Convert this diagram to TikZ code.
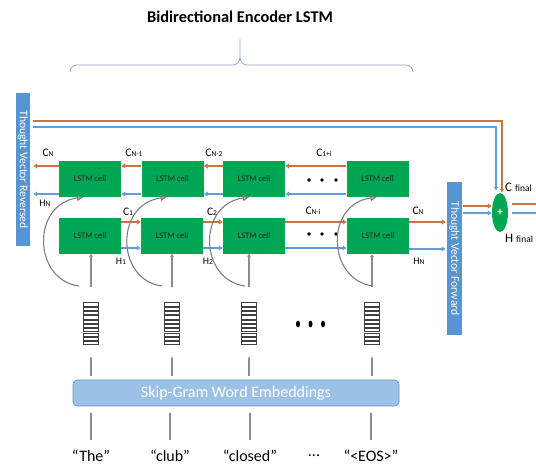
\documentclass[tikz,border=0pt]{standalone}
\usepackage{fontspec}
\setmainfont{Carlito}
\usetikzlibrary{arrows.meta,shapes.geometric}
\definecolor{orng}{RGB}{200,118,62}
\definecolor{lblue}{RGB}{98,156,214}
\definecolor{barblue}{RGB}{88,148,208}
\definecolor{cellgreen}{RGB}{0,166,81}
\definecolor{arrgray}{RGB}{140,140,140}
\definecolor{arcgray}{RGB}{125,125,125}
\definecolor{bracecol}{RGB}{140,170,205}
\definecolor{embfill}{RGB}{155,194,230}
\definecolor{embdraw}{RGB}{105,145,195}
\newcommand{\sbs}[1]{{\fontsize{7.5}{8}\selectfont #1}}
\begin{document}
\begin{tikzpicture}[x=1pt,y=-1pt,
  cellbox/.style={fill=cellgreen, minimum width=62pt, minimum height=36pt, inner sep=0pt, font=\fontsize{8.5}{9}\selectfont, text=black!85},
  barbox/.style={fill=barblue, text=white, inner sep=0pt, font=\fontsize{11.6}{12}\selectfont},
  oarr/.style={draw=orng, line width=2.6pt, -{Latex[length=4pt,width=6pt]}},
  barr/.style={draw=lblue, line width=2.2pt, -{Latex[length=4pt,width=5.5pt]}},
  oline/.style={draw=orng, line width=1.8pt},
  bline/.style={draw=lblue, line width=1.6pt},
  garr/.style={draw=arrgray, line width=2.2pt, -{Latex[length=3pt,width=4.5pt]}},
  garc/.style={draw=arcgray, line width=1.1pt, -{Triangle[length=6pt,width=6pt,fill=arcgray!60]}},
  lab/.style={font=\fontsize{11.5}{12}\selectfont, inner sep=0pt},
  hlab/.style={font=\fontsize{10}{10}\selectfont, inner sep=0pt},
  word/.style={font=\fontsize{16}{17}\selectfont, inner sep=0pt},
  vecbox/.style={minimum width=15pt, minimum height=43pt, inner sep=0pt},
  vecline/.style={draw=black!75, line width=0.45pt}
]
\useasboundingbox (0,0) rectangle (536,466);

% title and brace
\node[font=\bfseries\fontsize{16.4}{18}\selectfont] (title) at (240,17) {Bidirectional Encoder LSTM};
\draw[bracecol, line width=0.8pt] (70,72) to[out=90,in=180] (77,65) -- (233,65) to[out=0,in=-90] (240,57) -- (240,39)
  (240,57) to[out=-90,in=180] (247,65) -- (406,65) to[out=0,in=90] (413,72);

% bars
\node[barbox, minimum width=14pt, minimum height=153pt] (rev) at (23,169.5) {\rotatebox{-90}{Thought Vector Reversed}};
\node[barbox, minimum width=15pt, minimum height=153pt] (fwd) at (454.5,258.5) {\rotatebox{-90}{Thought Vector Forward}};

% cells
\node[cellbox] (t1) at (90,179) {LSTM cell};
\node[cellbox] (t2) at (172.5,179) {LSTM cell};
\node[cellbox] (t3) at (254,179) {LSTM cell};
\node[cellbox] (t4) at (377.5,179) {LSTM cell};
\node[cellbox] (b1) at (90,235.5) {LSTM cell};
\node[cellbox] (b2) at (172,235.5) {LSTM cell};
\node[cellbox] (b3) at (254,235.5) {LSTM cell};
\node[cellbox] (b4) at (378,236) {LSTM cell};

% plus
\node[ellipse, fill=cellgreen, minimum width=16pt, minimum height=39pt, inner sep=0pt, text=white, font=\bfseries\fontsize{11}{11}\selectfont] (plus) at (500,212.5) {+};

% top long lines
\coordinate (to) at (33,121);
\coordinate (tb) at (33,127);
\draw[oline, -{Latex[length=4pt,width=5pt]}] (to) -| ([xshift=2pt]plus.north);
\draw[bline, -{Latex[length=4pt,width=5pt]}] (tb) -| ([xshift=-4pt,yshift=2pt]plus.north);

% top row (backward)
\draw[oarr, shorten >=3pt] (t1.west |- 0,166) -- (rev.east |- 0,166);
\draw[barr, shorten >=3pt] (t1.west |- 0,194) -- (rev.east |- 0,194);
\draw[oarr] (t2.west |- 0,166) -- (t1.east |- 0,166);
\draw[barr] (t2.west |- 0,194) -- (t1.east |- 0,194);
\draw[oarr] (t3.west |- 0,166) -- (t2.east |- 0,166);
\draw[barr] (t3.west |- 0,194) -- (t2.east |- 0,194);
\draw[oarr] (t4.west |- 0,166) -- (t3.east |- 0,166);
\draw[barr] (t4.west |- 0,194) -- (t3.east |- 0,194);

% bottom row (forward)
\draw[oarr] (b1.east |- 0,222) -- (b2.west |- 0,222);
\draw[barr] (b1.east |- 0,248) -- (b2.west |- 0,248);
\draw[oarr] (b2.east |- 0,222) -- (b3.west |- 0,222);
\draw[barr] (b2.east |- 0,248) -- (b3.west |- 0,248);
\draw[oarr] (b3.east |- 0,222) -- (b4.west |- 0,222);
\draw[barr] (b3.east |- 0,248) -- (b4.west |- 0,248);
\draw[oarr, shorten >=1pt] (b4.east |- 0,222) -- (fwd.west |- 0,222);
\draw[barr, shorten >=1pt] (b4.east |- 0,249) -- (fwd.west |- 0,249);

% forward bar to plus, outputs
\draw[oarr, shorten <=1pt] (fwd.east |- 0,206) -- (plus.west |- 0,206);
\draw[barr, shorten <=1pt] (fwd.east |- 0,213) -- (plus.west |- 0,213);
\coordinate (oc) at (536,204);
\coordinate (ob) at (536,213);
\draw[draw=orng, line width=2.6pt, shorten <=4pt] (plus.east |- 0,204) -- (oc);
\draw[draw=lblue, line width=2.2pt, shorten <=4pt] (plus.east |- 0,213) -- (ob);
\node[anchor=west, inner sep=0pt, font=\fontsize{13}{13}\selectfont] (cf) at (505,187) {C {\fontsize{9.5}{10}\selectfont final}};
\node[anchor=west, inner sep=0pt, font=\fontsize{13}{13}\selectfont] (hf) at (505,238) {H {\fontsize{9.5}{10}\selectfont final}};

% dots in rows
\foreach \x in {309,322,336} {\fill (\x,180) circle (1.8pt); \fill (\x,234) circle (1.8pt);}

% labels
\node[lab] (lcn) at (48,153) {C\sbs{N}};
\node[lab] (lcn1) at (134,153) {C\sbs{N-1}};
\node[lab] (lcn2) at (214,153) {C\sbs{N-2}};
\node[lab] (lc1i) at (324,153) {C\sbs{1+i}};
\node[hlab] (lhn) at (45,203) {H\sbs{N}};
\node[lab] (lc1) at (128,212) {C\sbs{1}};
\node[lab] (lc2) at (212,212) {C\sbs{2}};
\node[lab] (lcni) at (313,211) {C\sbs{N-i}};
\node[lab] (lcnr) at (418,211) {C\sbs{N}};
\node[hlab] (lh1) at (121,261) {H\sbs{1}};
\node[hlab] (lh2) at (208,261) {H\sbs{2}};
\node[hlab] (lhnr) at (419,261) {H\sbs{N}};

% embedding vectors
\node[vecbox] (e1) at (91,324) {};
\node[vecbox] (e2) at (172,324) {};
\node[vecbox] (e3) at (249,324) {};
\node[vecbox] (e4) at (372,324) {};
\foreach \c in {e1,e2,e3,e4} {
  \foreach \i in {0,...,9} {
    \draw[vecline] ([yshift=-\i*4.3pt-0.4pt]\c.north west) rectangle ([yshift=-\i*4.3pt-3.6pt]\c.north east);
  }
}
\foreach \x in {298,310.5,323} {\fill (\x,324) ellipse (2pt and 3.4pt);}

% vertical arrows to cells
\draw[garr] (e1.north |- 0,287) -- (e1.north |- b1.south);
\draw[garr] (e2.north |- 0,287) -- (e2.north |- b2.south);
\draw[garr] (e3.north |- 0,287) -- (e3.north |- b3.south);
\draw[garr] (e4.north |- 0,287) -- (e4.north |- b4.south);

% curved arrows
\coordinate (s1) at (79,286);
\coordinate (s2) at (162,286);
\coordinate (s3) at (245,286);
\coordinate (s4) at (373,286);
\draw[garc] (s1) .. controls +(-46,-6) and +(-52,7) .. ([xshift=-7pt]t1.south);
\draw[garc] (s2) .. controls +(-46,-6) and +(-52,7) .. ([xshift=-6pt]t2.south);
\draw[garc] (s3) .. controls +(-46,-6) and +(-52,7) .. ([xshift=-5pt]t3.south);
\draw[garc] (s4) .. controls +(-46,-6) and +(-52,7) .. ([xshift=-1pt]t4.south);

% embeddings box
\node[fill=embfill, draw=embdraw, line width=0.6pt, rounded corners=4pt, minimum width=326pt, minimum height=26pt, inner sep=0pt, text=white, font=\fontsize{16}{17}\selectfont] (emb) at (236,393) {Skip-Gram Word Embeddings};
\draw[garr, -{Latex[length=2pt,width=3pt]}, shorten <=4pt, shorten >=11pt] (e1.south |- emb.north) -- (e1.south);
\draw[garr, -{Latex[length=2pt,width=3pt]}, shorten <=4pt, shorten >=11pt] (e2.south |- emb.north) -- (e2.south);
\draw[garr, -{Latex[length=2pt,width=3pt]}, shorten <=4pt, shorten >=11pt] (e3.south |- emb.north) -- (e3.south);
\draw[garr, -{Latex[length=2pt,width=3pt]}, shorten <=4pt, shorten >=11pt] (e4.south |- emb.north) -- (e4.south);

% words
\node[word] (w1) at (91,456) {“The”};
\node[word] (w2) at (170,456) {“club”};
\node[word] (w3) at (250,456) {“closed”};
\node[word] (w4) at (314,456) {...};
\node[word] (w5) at (371,456) {“<EOS>”};
\draw[garr, -{Latex[length=2pt,width=3pt]}, shorten >=6pt] (w1.north |- 0,440) -- (w1.north |- emb.south);
\draw[garr, -{Latex[length=2pt,width=3pt]}, shorten >=6pt] (w2.north |- 0,440) -- (w2.north |- emb.south);
\draw[garr, -{Latex[length=2pt,width=3pt]}, shorten >=6pt] (w3.north |- 0,440) -- (w3.north |- emb.south);
\draw[garr, -{Latex[length=2pt,width=3pt]}, shorten >=6pt] (w5.north |- 0,440) -- (w5.north |- emb.south);
\end{tikzpicture}
\end{document}
